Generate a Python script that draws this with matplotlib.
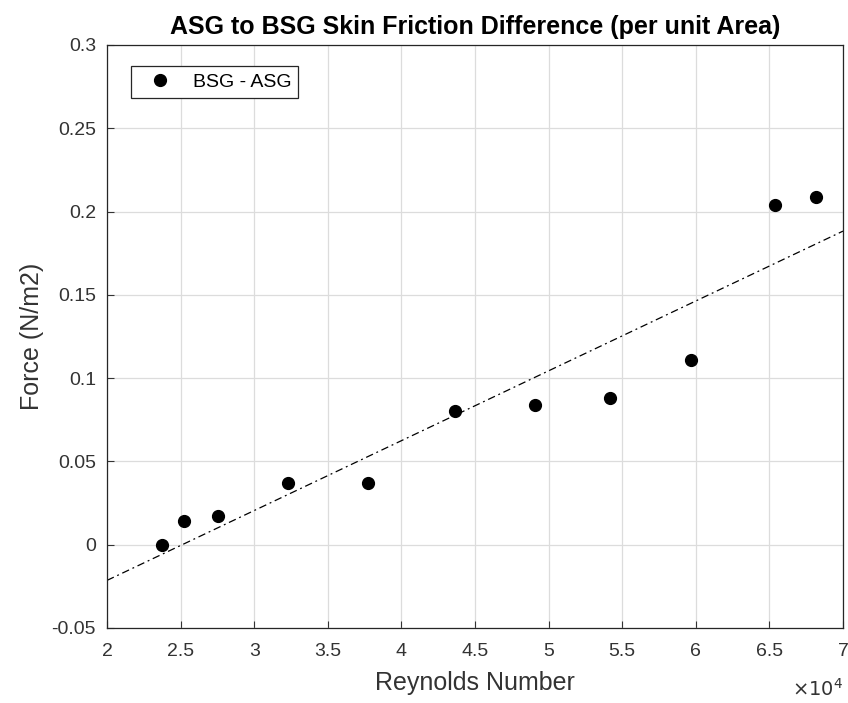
import matplotlib.pyplot as plt
import numpy as np

plt.rcParams['font.family'] = ['Liberation Sans', 'DejaVu Sans']

# Reynolds number (x 1e4) and force difference BSG - ASG (N/m2)
reynolds = np.array([2.374, 2.523, 2.754, 3.230, 3.773, 4.364, 4.908, 5.417, 5.967, 6.538, 6.817]) * 1e4
force_diff = np.array([0.0, 0.0144, 0.0174, 0.0372, 0.0370, 0.0804, 0.0840, 0.0882, 0.1110, 0.2040, 0.2090])

fig = plt.figure(figsize=(8.48, 7.03), dpi=100)
ax = fig.add_axes([0.1262, 0.1067, 0.8679, 0.8293])

ax.plot(reynolds, force_diff, 'o', color='black', markersize=8.5, label='BSG - ASG')

# linear fit across the full x range
p = np.polyfit(reynolds, force_diff, 1)
xfit = np.linspace(2e4, 7e4, 200)
ax.plot(xfit, np.polyval(p, xfit), color='black', linewidth=0.9, dashes=(6, 3, 1.5, 3))

ax.set_xlim(2e4, 7e4)
ax.set_ylim(-0.05, 0.3)
xt = np.arange(2, 7.01, 0.5)
ax.set_xticks(xt * 1e4)
ax.set_xticklabels([f'{v:g}' for v in xt])
yt = np.arange(-0.05, 0.301, 0.05)
ax.set_yticks(yt)
ax.set_yticklabels([f'{round(v, 2):g}' for v in yt])

ax.grid(True, color='#dcdcdc', linewidth=0.9)
ax.set_axisbelow(True)
ax.tick_params(direction='in', length=5, labelsize=14, colors='#333333')
ax.tick_params(axis='x', pad=11)
ax.tick_params(axis='y', pad=8)
for s in ax.spines.values():
    s.set_color('#262626')
    s.set_linewidth(0.9)

ax.set_title('ASG to BSG Skin Friction Difference (per unit Area)', fontsize=18, fontweight='bold', pad=8)
ax.set_xlabel('Reynolds Number', fontsize=18, color='#333333', labelpad=8)
ax.set_ylabel('Force (N/m2)', fontsize=18, color='#333333', labelpad=5)
ax.text(1.0, -0.085, r'$\times10^{4}$', transform=ax.transAxes, ha='right', va='top', fontsize=14, color='#333333')

leg = ax.legend(loc='upper left', bbox_to_anchor=(0.02, 0.98), fontsize=14, fancybox=False,
                framealpha=1, edgecolor='#262626', borderpad=0.35, handletextpad=0.6, handlelength=2.2)
leg.get_frame().set_linewidth(0.9)

plt.savefig('out.png', dpi=100)
